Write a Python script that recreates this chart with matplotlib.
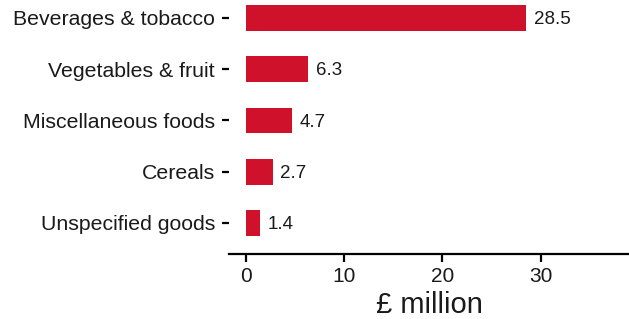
import matplotlib

matplotlib.use("Agg")
import matplotlib.pyplot as plt  # noqa: E402

categories = ["Beverages & tobacco", "Vegetables & fruit", "Miscellaneous foods",
              "Cereals", "Unspecified goods"]
values = [28.5, 6.3, 4.7, 2.7, 1.4]
xticks = [0, 10, 20, 30]

RED = "#D0112B"
INK = "#1a1a1a"

plt.rcParams["font.family"] = ["Liberation Sans", "DejaVu Sans"]

W, H = 629, 319
fig = plt.figure(figsize=(W / 100, H / 100), dpi=100)
ax = fig.add_axes([229 / W, (H - 254) / H, (W - 229) / W, 254 / H])

pos = list(range(len(categories)))
ax.barh(pos, values, height=0.5, color=RED)
for p, v in zip(pos, values):
    ax.text(v + 0.8, p + 0.03, f"{v}", va="center", ha="left", fontsize=13.5,
            color=INK)

ax.set_ylim(4.605, -0.351)
ax.set_xlim(-1.73, 39.0)
ax.set_yticks(pos)
ax.set_yticklabels(categories)
ax.set_xticks(xticks)

for side in ("top", "right", "left"):
    ax.spines[side].set_visible(False)
ax.spines["bottom"].set_linewidth(1.6)
ax.spines["bottom"].set_color("black")
ax.tick_params(axis="x", length=6, width=1.6, colors="black", labelsize=15,
               labelcolor=INK, pad=3)
ax.tick_params(axis="y", length=5, width=1.6, colors="black", labelsize=15.3,
               labelcolor=INK, pad=5)
ax.set_xlabel("£ million", fontsize=21, color=INK, labelpad=4)

fig.savefig("out.png", dpi=100)
